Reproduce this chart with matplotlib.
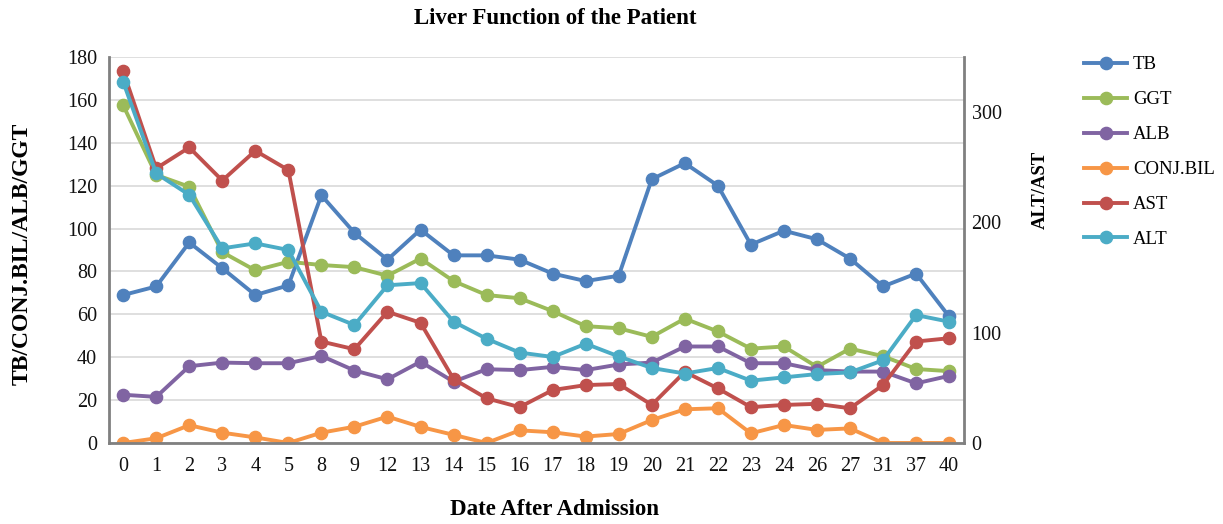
import matplotlib
matplotlib.use('Agg')
import matplotlib.pyplot as plt
from matplotlib.lines import Line2D

days = ['0', '1', '2', '3', '4', '5', '8', '9', '12', '13', '14', '15', '16',
        '17', '18', '19', '20', '21', '22', '23', '24', '26', '27', '31', '37', '40']

tb = [69, 73, 93.5, 81.5, 69, 73.5, 115.5, 98, 85.5, 99.5, 87.5, 87.5, 85.5,
      79, 75.5, 78, 123, 130.5, 120, 92.5, 99, 95, 86, 73, 79, 59]
ggt = [157.5, 125, 119.5, 89, 80.5, 84.5, 83, 82, 78, 86, 75.5, 69, 67.5,
       61.5, 54.5, 53.5, 49.5, 58, 52, 44, 45, 35.5, 44, 40.5, 34.5, 33.5]
alb = [22.5, 21.5, 35.8, 37.5, 37.2, 37.2, 40.6, 33.8, 29.7, 37.9, 28.6, 34.4, 34,
       35.5, 34, 36.6, 37.5, 45, 45, 37.2, 37.2, 34, 33.3, 33.3, 27.8, 31.3]
conj_bil = [0, 2.2, 8.3, 4.8, 2.6, 0, 4.8, 7.6, 12.3, 7.5, 3.8, 0, 5.9,
            5, 3, 4.2, 10.7, 15.7, 16.2, 4.5, 8.4, 6.1, 6.8, 0, 0, 0]
ast = [337, 249, 268, 238, 265, 247.5, 92, 85, 119, 109, 58, 40.5, 32.5,
       48, 52.5, 53.5, 34.5, 64.5, 49.5, 32.5, 34.5, 35.5, 31.5, 52.5, 92, 95]
alt = [327.5, 244.5, 225, 176.5, 181, 175, 119, 107, 143, 145, 110, 94.5, 82,
       78, 90, 78.5, 68, 63, 68, 56.5, 59.5, 62.5, 64, 75, 116, 110]

c_tb = '#4f81bd'
c_ggt = '#9bbb59'
c_alb = '#8064a2'
c_conj = '#f79646'
c_ast = '#c0504d'
c_alt = '#4bacc6'

plt.rcParams['font.family'] = ['Liberation Serif', 'DejaVu Serif']

fig = plt.figure(figsize=(12.23, 5.24), dpi=100)
ax = fig.add_axes([0.0891, 0.1546, 0.6991, 0.7366])
ax2 = ax.twinx()

x = list(range(len(days)))
style = dict(linewidth=2.8, marker='o', markersize=8.8, solid_joinstyle='round')

ax.plot(x, tb, color=c_tb, **style)
ax.plot(x, ggt, color=c_ggt, **style)
ax.plot(x, alb, color=c_alb, **style)
ax.plot(x, conj_bil, color=c_conj, **style)
ax2.plot(x, ast, color=c_ast, **style)
ax2.plot(x, alt, color=c_alt, **style)

ax.set_xlim(-0.43, 25.45)
ax.set_ylim(0, 180)
ax.set_yticks(range(0, 181, 20))
ax2.set_ylim(0, 350)
ax2.set_yticks([0, 100, 200, 300])
ax.set_xticks(x)
ax.set_xticklabels(days)

ax.grid(axis='y', color='#d9d9d9', linewidth=1.2)
ax.set_axisbelow(True)

for a in (ax, ax2):
    for s in a.spines.values():
        s.set_visible(False)
    a.tick_params(length=0, labelsize=14.5, colors='#111111')
ax.spines['left'].set_visible(True)
ax.spines['bottom'].set_visible(True)
ax2.spines['right'].set_visible(True)
for s in (ax.spines['left'], ax.spines['bottom'], ax2.spines['right']):
    s.set_color('#808080')
    s.set_linewidth(2)
ax.tick_params(axis='x', pad=10)
ax.tick_params(axis='y', pad=8.5)
ax2.tick_params(axis='y', pad=5.5)

fig.text(0.454, 0.965, 'Liver Function of the Patient', ha='center', va='center',
         fontsize=16.5, fontweight='bold')
fig.text(0.453, 0.027, 'Date After Admission', ha='center', va='center',
         fontsize=16.5, fontweight='bold')
fig.text(0.018, 0.515, 'TB/CONJ.BIL/ALB/GGT', ha='center', va='center',
         rotation=90, fontsize=17, fontweight='bold')
fig.text(0.851, 0.637, 'ALT/AST', ha='center', va='center',
         rotation=90, fontsize=13.5, fontweight='bold')

names = ['TB', 'GGT', 'ALB', 'CONJ.BIL', 'AST', 'ALT']
cols = [c_tb, c_ggt, c_alb, c_conj, c_ast, c_alt]
handles = [Line2D([], [], color=c, **style) for c in cols]
fig.legend(handles, names, loc='upper left', bbox_to_anchor=(0.8805, 0.907),
           frameon=False, fontsize=13.5, handlelength=2.3, labelspacing=0.95,
           handletextpad=0.3, borderaxespad=0)

fig.savefig('out.png', dpi=100)
